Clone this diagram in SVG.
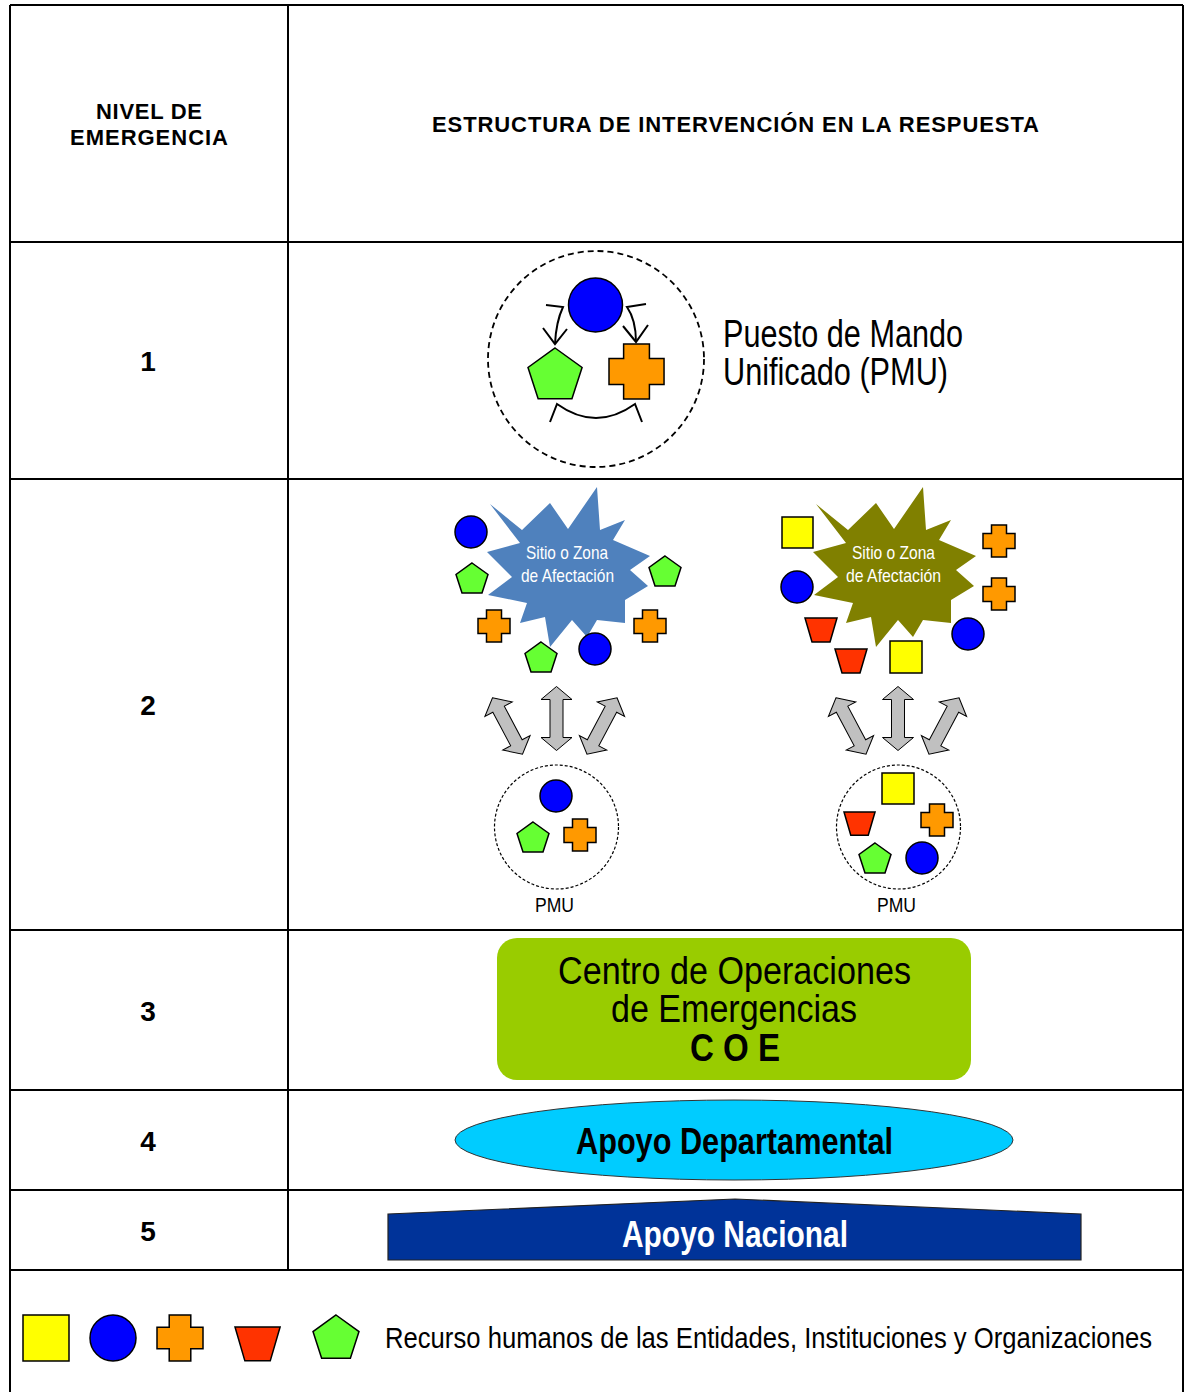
<svg xmlns="http://www.w3.org/2000/svg" xmlns:xlink="http://www.w3.org/1999/xlink" width="1184" height="1392" viewBox="0 0 1184 1392">
<style>
.grid{stroke:#000;stroke-width:2;fill:none}
.hdr{font-family:"Liberation Sans",Arial,sans-serif;font-weight:bold;font-size:22px;fill:#000}
.num{font-family:"Liberation Sans",Arial,sans-serif;font-weight:bold;font-size:28px;fill:#000;text-anchor:middle}
.nar{font-family:"Liberation Sans Narrow","Liberation Sans",Arial,sans-serif;fill:#000}
.b{font-weight:bold}
.w{fill:#fff}
.sh{stroke:#000;stroke-width:1.5}
.bl{fill:#0000ff}
.gr{fill:#66ff33}
.or{fill:#ff9900}
.ye{fill:#ffff00}
.rd{fill:#ff3300}
.arw{fill:#c0c0c0;stroke:#000;stroke-width:1}
.ln{fill:none;stroke:#000;stroke-width:2}
</style>
<defs>
<path id="cross" d="M8.5,0 H23.5 V8.5 H32 V23.5 H23.5 V32 H8.5 V23.5 H0 V8.5 H8.5 Z" vector-effect="non-scaling-stroke"/>
<path id="pent" d="M16,0 L32,11.5 L26,30 L6,30 L0,11.5 Z" vector-effect="non-scaling-stroke"/>
<path id="trap" d="M0,0 H32 L25,24 H7 Z" vector-effect="non-scaling-stroke"/>
<path id="dbl" d="M0,-32 L15.5,-19 L6.5,-19 L6.5,19 L15.5,19 L0,32 L-15.5,19 L-6.5,19 L-6.5,-19 L-15.5,-19 Z"/>
<polygon id="star" points="490,504 522,530 550,503 568,529 597,487 600,530 625,520 613,540 650,556 630,570 648,586 625,600 625,623 597,620 587,637 572,620 550,647 545,617 520,623 527,603 488,595 512,577 487,552 520,543"/>
</defs>

<g id="table">
<line class="grid" x1="10" y1="5" x2="1183" y2="5"/>
<line class="grid" x1="10" y1="5" x2="10" y2="1392"/>
<line class="grid" x1="1183" y1="5" x2="1183" y2="1392"/>
<line class="grid" x1="288" y1="5" x2="288" y2="1270"/>
<line class="grid" x1="10" y1="242" x2="1183" y2="242"/>
<line class="grid" x1="10" y1="479" x2="1183" y2="479"/>
<line class="grid" x1="10" y1="930" x2="1183" y2="930"/>
<line class="grid" x1="10" y1="1090" x2="1183" y2="1090"/>
<line class="grid" x1="10" y1="1190" x2="1183" y2="1190"/>
<line class="grid" x1="10" y1="1270" x2="1183" y2="1270"/>
</g>

<g id="headers">
<text class="hdr" x="96" y="119" textLength="106">NIVEL DE</text>
<text class="hdr" x="70" y="145" textLength="158">EMERGENCIA</text>
<text class="hdr" x="432" y="132" textLength="607">ESTRUCTURA DE INTERVENCIÓN EN LA RESPUESTA</text>
<text class="num" x="148" y="371">1</text>
<text class="num" x="148" y="715">2</text>
<text class="num" x="148" y="1021">3</text>
<text class="num" x="148" y="1151">4</text>
<text class="num" x="148" y="1241">5</text>
</g>

<g id="level1">
<circle cx="596" cy="359" r="108" fill="none" stroke="#000" stroke-width="1.8" stroke-dasharray="6,4"/>
<circle class="sh bl" cx="595.5" cy="305" r="27"/>
<use href="#pent" class="sh gr" transform="translate(528,348) scale(1.69)"/>
<use href="#cross" class="sh or" transform="translate(609,344) scale(1.72)"/>
<text class="nar" x="723" y="347" font-size="38" textLength="240" lengthAdjust="spacingAndGlyphs">Puesto de Mando</text>
<text class="nar" x="723" y="385" font-size="38" textLength="225" lengthAdjust="spacingAndGlyphs">Unificado (PMU)</text>
</g>

<g id="connectors">
<path class="ln" d="M546,305 L563,307 Q556,322 555,344"/>
<path class="ln" d="M543,328 L555,344 L567,329"/>
<path class="ln" d="M646,304 L627,307 Q636,320 636,342"/>
<path class="ln" d="M623,326 L636,342 L648,325"/>
<path class="ln" d="M550,422 L557,404 Q596,432 635,404 L642,422" stroke-width="2.5"/>
<use href="#dbl" class="arw" transform="translate(507.5,726) rotate(-28)"/>
<use href="#dbl" class="arw" transform="translate(556.5,718.5)"/>
<use href="#dbl" class="arw" transform="translate(602,726) rotate(28)"/>
<use href="#dbl" class="arw" transform="translate(851,726) rotate(-28)"/>
<use href="#dbl" class="arw" transform="translate(898,718.5)"/>
<use href="#dbl" class="arw" transform="translate(944,726) rotate(28)"/>
</g>

<g id="site-left">
<use href="#star" fill="#4f81bd"/>
<text class="nar w" x="526" y="559" font-size="19" textLength="82" lengthAdjust="spacingAndGlyphs">Sitio o Zona</text>
<text class="nar w" x="521" y="582" font-size="19" textLength="93" lengthAdjust="spacingAndGlyphs">de Afectación</text>
<circle class="sh bl" cx="471" cy="532" r="16"/>
<use href="#pent" class="sh gr" transform="translate(456,563)"/>
<use href="#pent" class="sh gr" transform="translate(649,556)"/>
<use href="#cross" class="sh or" transform="translate(478,610)"/>
<use href="#cross" class="sh or" transform="translate(634,610)"/>
<use href="#pent" class="sh gr" transform="translate(525,642)"/>
<circle class="sh bl" cx="595" cy="649" r="16"/>
</g>

<g id="site-right">
<use href="#star" fill="#808000" transform="translate(326,0)"/>
<text class="nar w" x="852" y="559" font-size="19" textLength="83" lengthAdjust="spacingAndGlyphs">Sitio o Zona</text>
<text class="nar w" x="846" y="582" font-size="19" textLength="95" lengthAdjust="spacingAndGlyphs">de Afectación</text>
<rect class="sh ye" x="782" y="517" width="31" height="31"/>
<circle class="sh bl" cx="797" cy="587" r="16"/>
<use href="#trap" class="sh rd" transform="translate(805,618)"/>
<use href="#trap" class="sh rd" transform="translate(835,649)"/>
<rect class="sh ye" x="890" y="641" width="32" height="32"/>
<circle class="sh bl" cx="968" cy="634" r="16"/>
<use href="#cross" class="sh or" transform="translate(983,525)"/>
<use href="#cross" class="sh or" transform="translate(983,578)"/>
</g>

<g id="pmu-left">
<circle cx="556.5" cy="827" r="62" fill="none" stroke="#000" stroke-width="1.2" stroke-dasharray="3,2"/>
<circle class="sh bl" cx="556" cy="796" r="16"/>
<use href="#pent" class="sh gr" transform="translate(517,822)"/>
<use href="#cross" class="sh or" transform="translate(564,819)"/>
<text class="nar" x="535" y="912" font-size="20" textLength="39" lengthAdjust="spacingAndGlyphs">PMU</text>
</g>

<g id="pmu-right">
<circle cx="898.5" cy="827" r="62" fill="none" stroke="#000" stroke-width="1.2" stroke-dasharray="3,2"/>
<rect class="sh ye" x="882" y="773" width="32" height="31"/>
<use href="#trap" class="sh rd" transform="translate(844,812) scale(0.97)"/>
<use href="#cross" class="sh or" transform="translate(921,804)"/>
<use href="#pent" class="sh gr" transform="translate(859,843)"/>
<circle class="sh bl" cx="922" cy="858" r="16"/>
<text class="nar" x="877" y="912" font-size="20" textLength="39" lengthAdjust="spacingAndGlyphs">PMU</text>
</g>

<g id="coe">
<rect x="497" y="938" width="474" height="142" rx="20" fill="#99cc00"/>
<text class="nar" x="558" y="984" font-size="39" textLength="353" lengthAdjust="spacingAndGlyphs">Centro de Operaciones</text>
<text class="nar" x="611" y="1022" font-size="39" textLength="246" lengthAdjust="spacingAndGlyphs">de Emergencias</text>
<text class="nar b" x="690" y="1061" font-size="39" textLength="90" lengthAdjust="spacingAndGlyphs">C O E</text>
</g>

<g id="apoyo-departamental">
<ellipse cx="734" cy="1140" rx="279" ry="40" fill="#00ccff" stroke="#333" stroke-width="1"/>
<text class="nar b" x="576" y="1154" font-size="37" textLength="317" lengthAdjust="spacingAndGlyphs">Apoyo Departamental</text>
</g>

<g id="apoyo-nacional">
<polygon points="388,1214 735,1199 1081,1214 1081,1260 388,1260" fill="#003399" stroke="#222" stroke-width="1.2"/>
<text class="nar b w" x="622" y="1247" font-size="36" textLength="226" lengthAdjust="spacingAndGlyphs">Apoyo Nacional</text>
</g>

<g id="legend">
<rect class="sh ye" x="23" y="1315" width="46" height="46"/>
<circle class="sh bl" cx="113" cy="1338" r="23"/>
<use href="#cross" class="sh or" transform="translate(157,1315) scale(1.4375)"/>
<use href="#trap" class="sh rd" transform="translate(235,1327) scale(1.41)"/>
<use href="#pent" class="sh gr" transform="translate(313,1315) scale(1.4375)"/>
<text class="nar" x="385" y="1348" font-size="30" textLength="767" lengthAdjust="spacingAndGlyphs">Recurso humanos de las Entidades, Instituciones y Organizaciones</text>
</g>
</svg>
